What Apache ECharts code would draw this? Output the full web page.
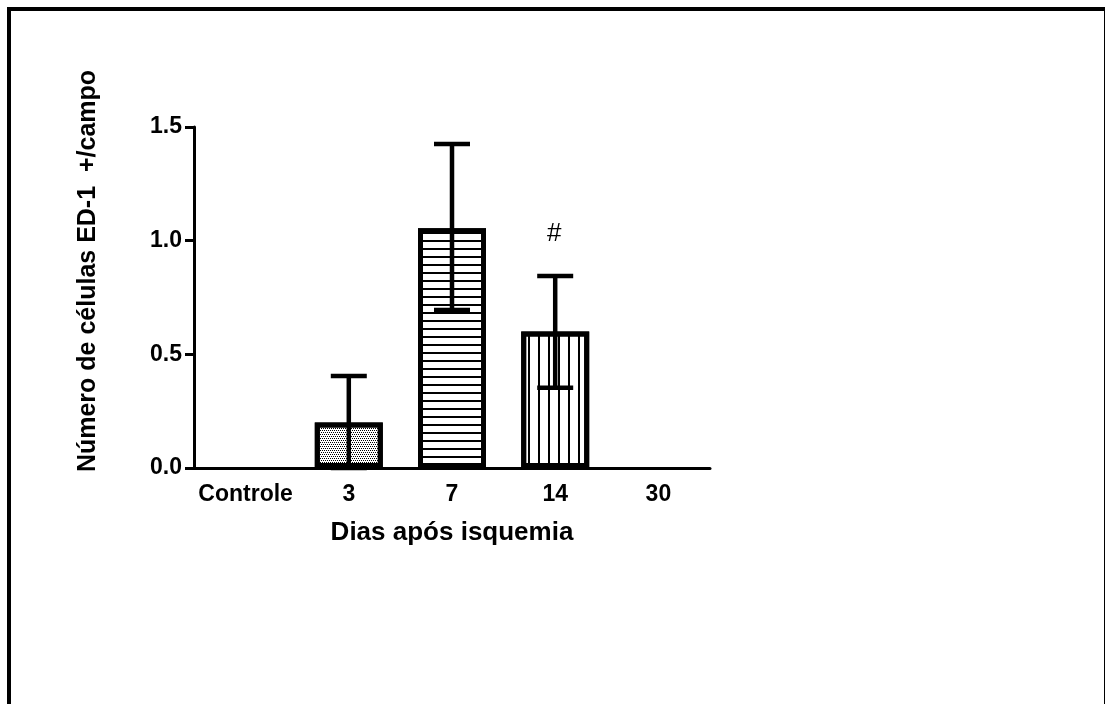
<!DOCTYPE html>
<html>
<head>
<meta charset="utf-8">
<script src="https://cdn.jsdelivr.net/npm/echarts@6/dist/echarts.min.js"></script>
<style>
html,body{margin:0;padding:0;background:#fff;}
#chart{width:1105px;height:704px;}
</style>
</head>
<body>
<div id="chart"></div>
<script>
// ---- data ----
const categories = ['Controle', '3', '7', '14', '30'];
const means = [null, 0.20, 1.055, 0.60, null];
const errLow = [null, 0.0, 0.695, 0.353, null];
const errHigh = [null, 0.405, 1.425, 0.845, null];
const annotations = ['', '', '', '#', ''];
const yTicks = [0, 0.5, 1.0, 1.5];
const xTitle = 'Dias após isquemia';
const yTitle = 'Número de células ED-1  +/campo';

const FONT = "'Liberation Sans', Arial, sans-serif";

const patterns = [
  null,
  { symbol: 'rect', symbolSize: 1, dashArrayX: [[1, 1], [0, 1, 1, 0]], dashArrayY: [1, 1], color: '#000', rotation: 0 },
  { symbol: 'rect', symbolSize: 1, dashArrayX: [1, 0], dashArrayY: [1.6, 5.1], color: '#000', rotation: 0 },
  { symbol: 'rect', symbolSize: 1, dashArrayX: [1, 0], dashArrayY: [1.5, 7.2], color: '#000', rotation: Math.PI / 2 },
  null
];

const barData = means.map((v, i) => v == null ? '-' : {
  value: v,
  itemStyle: { color: '#fff', borderColor: '#000', borderWidth: 5, decal: patterns[i] }
});

const errData = [];
means.forEach((v, i) => { if (v != null) errData.push([i, errLow[i], errHigh[i], annotations[i]]); });

const chart = echarts.init(document.getElementById('chart'), null, { renderer: 'canvas' });
chart.setOption({
  animation: false,
  backgroundColor: '#fff',
  grid: { left: 194, right: 395, top: 127, bottom: 236, containLabel: false },
  xAxis: {
    type: 'category',
    data: categories,
    name: xTitle,
    nameLocation: 'middle',
    nameGap: 52,
    nameTextStyle: { fontFamily: FONT, fontWeight: 'bold', fontSize: 26, color: '#000' },
    axisLine: { lineStyle: { color: '#000', width: 3 } },
    axisTick: { alignWithLabel: true, length: 9, lineStyle: { color: '#000', width: 3 } },
    axisLabel: { interval: 0, fontFamily: FONT, fontWeight: 'bold', fontSize: 23, color: '#000', margin: 15 }
  },
  yAxis: {
    type: 'value',
    min: 0, max: 1.5, interval: 0.5,
    splitLine: { show: false },
    axisLine: { show: true, lineStyle: { color: '#000', width: 3 } },
    axisTick: { show: true, length: 9, lineStyle: { color: '#000', width: 3 } },
    axisLabel: { fontFamily: FONT, fontWeight: 'bold', fontSize: 23, color: '#000', margin: 12,
      formatter: v => yTicks.indexOf(v) >= 0 ? v.toFixed(1) : '' }
  },
  graphic: [
    { type: 'rect', shape: { x: 9, y: 9, width: 1097, height: 697 },
      style: { fill: 'none', stroke: '#000', lineWidth: 4 }, z: 100 },
    { type: 'text', x: 88, y: 271, rotation: Math.PI / 2,
      style: { text: yTitle, font: "bold 25px 'Liberation Sans', Arial, sans-serif", fill: '#000',
        textAlign: 'center', textVerticalAlign: 'middle' } }
  ],
  series: [
    { type: 'bar', data: barData, barWidth: 68, z: 2 },
    {
      type: 'custom', z: 5, data: errData,
      renderItem: function (params, api) {
        const x = api.value(0);
        const lo = api.coord([x, api.value(1)]);
        const hi = api.coord([x, api.value(2)]);
        const half = 18;
        const st = { stroke: '#000', lineWidth: 4.5 };
        const children = [
          { type: 'line', shape: { x1: hi[0], y1: lo[1], x2: hi[0], y2: hi[1] }, style: st },
          { type: 'line', shape: { x1: hi[0] - half, y1: hi[1], x2: hi[0] + half, y2: hi[1] }, style: st },
          { type: 'line', shape: { x1: lo[0] - half, y1: lo[1], x2: lo[0] + half, y2: lo[1] }, style: st }
        ];
        const ann = errData[params.dataIndex][3];
        if (ann) {
          children.push({ type: 'text', x: hi[0] - 1, y: hi[1] - 42,
            style: { text: ann, font: "26px 'Liberation Sans', Arial, sans-serif", fill: '#000',
              textAlign: 'center', textVerticalAlign: 'middle' } });
        }
        return { type: 'group', children: children };
      }
    }
  ]
});
</script>
</body>
</html>
